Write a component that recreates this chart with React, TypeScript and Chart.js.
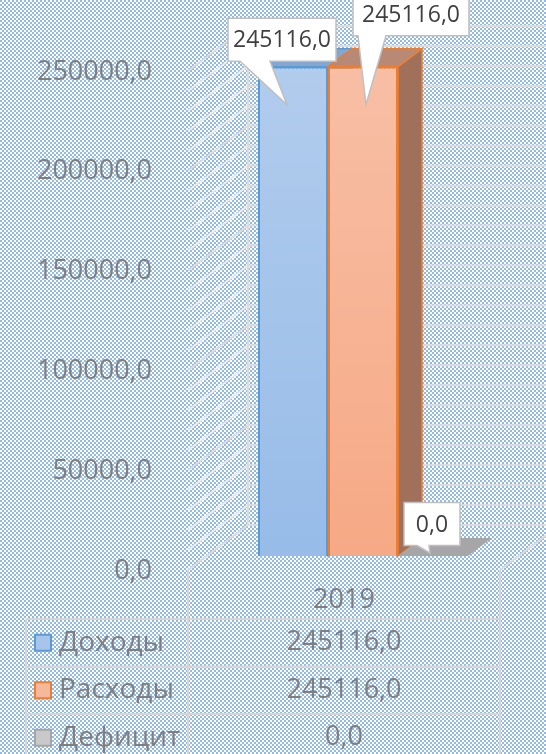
import React, { useEffect, useRef } from 'react';
import { Chart, registerables } from 'chart.js';

Chart.register(...registerables);

// ---- data ----
const categories = ['2019'];
const seriesNames = ['Доходы', 'Расходы', 'Дефицит'];
const incomeValues = [245116.0];
const expenseValues = [245116.0];
const deficitValues = [0.0];
const axisMin = 0;
const axisMax = 250000;
const labelStep = 50000;
const gridStep = 10000;

const fmt = (v: number) => v.toFixed(1).replace('.', ',');

// ---- style ----
const FONT = "'Open Sans', 'Noto Sans', sans-serif";
const AXIS_COLOR = '#7f7f7f';
const CALLOUT_TEXT = '#404040';
const CHECK_BLUE = '#93b9e6';
const WALL_LINE = '#dcdcdc';
const SIDE_LINE = 'rgba(236,236,236,0.95)';
const TABLE_LINE = '#d6d6d6';

const FRONT_TOP = ['#b2cced', '#f8bfa6', '#c9c9c9'];
const FRONT_BOTTOM = ['#97bce8', '#f6a985', '#c9c9c9'];
const EDGE = ['#5b9bd5', '#ed7d31', '#a5a5a5'];
const TOP_FACE = ['#86a6cf', '#b88a76', '#a6a6a6'];
const SIDE_FACE = ['#6f90bb', '#a0705b', '#8c8c8c'];
const KEY_FILL = ['#a9c4eb', '#f6b89a', '#c9c9c9'];

const BAR_D = { dx: 24, dy: -18 };
const FRONT = { dx: -19, dy: 14 };
const BACK = { dx: 41, dy: -31 };

const CALLOUTS = [
  { ds: 0, bx: -11, by: -27, w: 108, h: 43, baseL: 12, baseR: 42, tx: -6, ty: 38 },
  { ds: 1, bx: 48, by: -52, w: 116, h: 42, baseL: 5, baseR: 33, tx: 3, ty: 38 },
  { ds: 2, bx: -1, by: -32, w: 56, h: 43, baseL: 13, baseR: 25, tx: -3, ty: -3 },
];

function poly(ctx: CanvasRenderingContext2D, pts: number[][], fill: string, stroke?: string) {
  ctx.beginPath();
  ctx.moveTo(pts[0][0], pts[0][1]);
  for (let i = 1; i < pts.length; i++) ctx.lineTo(pts[i][0], pts[i][1]);
  ctx.closePath();
  ctx.fillStyle = fill;
  ctx.fill();
  if (stroke) {
    ctx.strokeStyle = stroke;
    ctx.lineWidth = 1.5;
    ctx.stroke();
  }
}

function line(ctx: CanvasRenderingContext2D, x1: number, y1: number, x2: number, y2: number) {
  ctx.beginPath();
  ctx.moveTo(x1, y1);
  ctx.lineTo(x2, y2);
  ctx.stroke();
}

const chart3d = {
  id: 'chart3d',
  beforeDraw(chart: any) {
    const { ctx, width, height } = chart;
    const pc = document.createElement('canvas');
    pc.width = 4;
    pc.height = 4;
    const p = pc.getContext('2d')!;
    p.fillStyle = '#ffffff';
    p.fillRect(0, 0, 4, 4);
    p.fillStyle = CHECK_BLUE;
    p.fillRect(0, 0, 2, 2);
    p.fillRect(2, 2, 2, 2);
    ctx.save();
    ctx.fillStyle = ctx.createPattern(pc, 'repeat');
    ctx.fillRect(0, 0, width, height);
    ctx.restore();
  },
  beforeDatasetsDraw(chart: any) {
    const { ctx, chartArea: ca, width, height } = chart;
    const ys = chart.scales.y;
    const y0 = ys.getPixelForValue(axisMin);
    const yMax = ys.getPixelForValue(axisMax);
    ctx.save();
    ctx.lineWidth = 2;
    // walls
    for (let v = axisMin; v <= axisMax; v += gridStep) {
      const y = ys.getPixelForValue(v);
      ctx.strokeStyle = WALL_LINE;
      line(ctx, ca.left + BACK.dx, y + BACK.dy, width, y + BACK.dy);
      ctx.strokeStyle = v % labelStep === 0 ? WALL_LINE : SIDE_LINE;
      line(ctx, ca.left + FRONT.dx, y + FRONT.dy, ca.left + BACK.dx, y + BACK.dy);
    }
    ctx.strokeStyle = WALL_LINE;
    line(ctx, ca.left + BACK.dx, yMax + BACK.dy, ca.left + BACK.dx, y0 + BACK.dy);
    line(ctx, ca.right + FRONT.dx, y0 + FRONT.dy, ca.right + BACK.dx, y0 + BACK.dy);

    // data table
    const tLeft = 26;
    const c1 = ca.left + FRONT.dx;
    const c2 = ca.right + FRONT.dx;
    const floorFront = y0 + FRONT.dy;
    const tTop = y0 + 63;
    const rowH = 47.5;
    ctx.strokeStyle = TABLE_LINE;
    line(ctx, c1, floorFront, c1, height);
    line(ctx, c2, floorFront, c2, height);
    line(ctx, tLeft, tTop, tLeft, height);
    for (let k = 0; k <= 3; k++) line(ctx, tLeft, tTop + k * rowH, c2, tTop + k * rowH);

    ctx.fillStyle = AXIS_COLOR;
    ctx.textBaseline = 'middle';
    ctx.textAlign = 'center';
    ctx.font = `27px ${FONT}`;
    const cx = (c1 + c2) / 2;
    categories.forEach((c) => ctx.fillText(c, cx, (floorFront + tTop) / 2 + 6));
    const rows = [incomeValues, expenseValues, deficitValues];
    rows.forEach((vals, i) => {
      const ry = tTop + rowH * (i + 0.5);
      ctx.font = `27px ${FONT}`;
      ctx.textAlign = 'center';
      ctx.fillStyle = AXIS_COLOR;
      ctx.fillText(fmt(vals[0]), cx, ry);
      ctx.font = `28px ${FONT}`;
      ctx.textAlign = 'left';
      ctx.fillText(seriesNames[i], 59, ry);
      ctx.fillStyle = KEY_FILL[i];
      ctx.fillRect(35, ry - 8, 16, 16);
      ctx.strokeStyle = EDGE[i];
      ctx.lineWidth = 2;
      ctx.strokeRect(35, ry - 8, 16, 16);
    });

    // 3D faces of bars
    [0, 1, 2].forEach((i) => {
      const meta = chart.getDatasetMeta(i);
      meta.data.forEach((el: any) => {
        const { x, y, base, width: w } = el.getProps(['x', 'y', 'base', 'width'], true);
        const l = x - w / 2;
        const r = x + w / 2;
        if (base - y > 0.5) {
          poly(ctx, [[r, y], [r + BAR_D.dx, y + BAR_D.dy], [r + BAR_D.dx, base + BAR_D.dy], [r, base]], SIDE_FACE[i], EDGE[i]);
          poly(ctx, [[l, y], [r, y], [r + BAR_D.dx, y + BAR_D.dy], [l + BAR_D.dx, y + BAR_D.dy]], TOP_FACE[i], EDGE[i]);
        } else {
          poly(ctx, [[l, y], [r, y], [r + BAR_D.dx, y + BAR_D.dy], [l + BAR_D.dx, y + BAR_D.dy]], TOP_FACE[i]);
        }
      });
    });
    ctx.restore();
  },
  afterDatasetsDraw(chart: any) {
    const { ctx } = chart;
    ctx.save();
    CALLOUTS.forEach((c) => {
      const el = chart.getDatasetMeta(c.ds).data[0];
      const { x, y } = el.getProps(['x', 'y'], true);
      const value = chart.data.datasets[c.ds].data[0] as number;
      const bcx = x + c.bx;
      const bcy = y + c.by;
      const L = bcx - c.w / 2;
      const R = bcx + c.w / 2;
      const T = bcy - c.h / 2;
      const B = bcy + c.h / 2;
      ctx.beginPath();
      ctx.moveTo(L, T);
      ctx.lineTo(R, T);
      ctx.lineTo(R, B);
      ctx.lineTo(L + c.baseR, B);
      ctx.lineTo(x + c.tx, y + c.ty);
      ctx.lineTo(L + c.baseL, B);
      ctx.lineTo(L, B);
      ctx.closePath();
      ctx.fillStyle = '#ffffff';
      ctx.fill();
      ctx.strokeStyle = '#bfbfbf';
      ctx.lineWidth = 1.5;
      ctx.stroke();
      ctx.font = `23px ${FONT}`;
      ctx.fillStyle = CALLOUT_TEXT;
      ctx.textAlign = 'center';
      ctx.textBaseline = 'middle';
      ctx.fillText(fmt(value), bcx, bcy + 1);
    });
    ctx.restore();
  },
};

function gradientFill(i: number) {
  return (context: any) => {
    const ca = context.chart.chartArea;
    if (!ca) return FRONT_TOP[i];
    const g = context.chart.ctx.createLinearGradient(0, ca.top, 0, ca.bottom);
    g.addColorStop(0, FRONT_TOP[i]);
    g.addColorStop(1, FRONT_BOTTOM[i]);
    return g;
  };
}

export default function App() {
  const ref = useRef<HTMLCanvasElement>(null);
  useEffect(() => {
    document.body.style.margin = '0';
    const seriesData = [incomeValues, expenseValues, deficitValues];
    const chart = new Chart(ref.current!, {
      type: 'bar',
      data: {
        labels: categories,
        datasets: seriesData.map((vals, i) => ({
          label: seriesNames[i],
          data: vals,
          backgroundColor: gradientFill(i),
          borderColor: EDGE[i],
          borderWidth: i === 2 ? 0 : 2,
          categoryPercentage: 0.673,
          barPercentage: 1,
        })),
      },
      options: {
        animation: false,
        responsive: false,
        layout: { padding: { left: 0, right: 27, top: 57, bottom: 198 } },
        plugins: { legend: { display: false }, tooltip: { enabled: false } },
        scales: {
          x: { display: false, grid: { display: false } },
          y: {
            min: axisMin,
            max: axisMax,
            grid: { display: false, drawTicks: false },
            border: { display: false },
            afterFit: (scale: any) => {
              scale.width = 207;
              scale.paddingTop = 0;
              scale.paddingBottom = 0;
            },
            ticks: {
              stepSize: labelStep,
              padding: 55,
              labelOffset: 15,
              color: AXIS_COLOR,
              font: { family: FONT, size: 27 },
              callback: (v: any) => fmt(Number(v)),
            },
          },
        },
      },
      plugins: [chart3d],
    });
    return () => chart.destroy();
  }, []);
  return (
    <div style={{ width: 546, height: 754 }}>
      <canvas ref={ref} width={546} height={754} style={{ display: 'block' }} />
    </div>
  );
}
